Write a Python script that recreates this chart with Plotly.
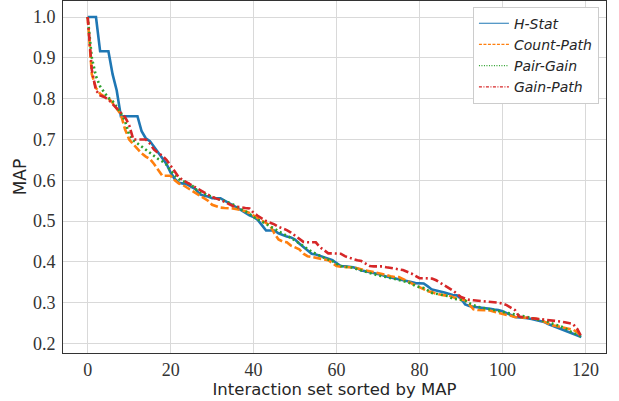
import plotly.graph_objects as go

idx = list(range(120))

h_stat = [1.0, 1.0, 1.0, 0.916, 0.916, 0.916, 0.86, 0.82, 0.757, 0.757,
          0.757, 0.757, 0.757, 0.72, 0.703, 0.696, 0.682, 0.668, 0.655, 0.64,
          0.619, 0.603, 0.594, 0.592, 0.59, 0.584, 0.578, 0.566, 0.562, 0.56,
          0.556, 0.556, 0.556, 0.55, 0.545, 0.54, 0.533, 0.527, 0.52, 0.514,
          0.51, 0.503, 0.49, 0.477, 0.477, 0.477, 0.47, 0.465, 0.462, 0.46,
          0.455, 0.445, 0.436, 0.428, 0.42, 0.418, 0.415, 0.412, 0.408, 0.404,
          0.396, 0.39, 0.389, 0.388, 0.387, 0.384, 0.379, 0.377, 0.375, 0.373,
          0.371, 0.368, 0.364, 0.362, 0.36, 0.358, 0.356, 0.353, 0.351, 0.348,
          0.347, 0.347, 0.34, 0.332, 0.33, 0.328, 0.325, 0.322, 0.319, 0.318,
          0.31, 0.296, 0.292, 0.29, 0.289, 0.288, 0.286, 0.285, 0.283, 0.282,
          0.279, 0.275, 0.27, 0.265, 0.264, 0.264, 0.262, 0.26, 0.258, 0.256,
          0.253, 0.248, 0.244, 0.24, 0.237, 0.233, 0.229, 0.225, 0.221, 0.216]

count_path = [1.0, 0.86, 0.826, 0.812, 0.805, 0.8, 0.79, 0.776, 0.761, 0.725,
              0.7, 0.688, 0.677, 0.666, 0.658, 0.652, 0.64, 0.626, 0.611, 0.611,
              0.611, 0.6, 0.592, 0.588, 0.582, 0.575, 0.57, 0.563, 0.558, 0.55,
              0.54, 0.536, 0.533, 0.532, 0.532, 0.531, 0.529, 0.527, 0.524, 0.52,
              0.514, 0.507, 0.5, 0.495, 0.489, 0.47, 0.455, 0.45, 0.448, 0.44,
              0.435, 0.431, 0.42, 0.414, 0.412, 0.41, 0.408, 0.406, 0.404, 0.397,
              0.39, 0.388, 0.387, 0.387, 0.387, 0.384, 0.381, 0.379, 0.377, 0.375,
              0.373, 0.371, 0.368, 0.365, 0.363, 0.363, 0.358, 0.352, 0.347, 0.342,
              0.337, 0.333, 0.328, 0.326, 0.322, 0.32, 0.318, 0.318, 0.314, 0.31,
              0.308, 0.306, 0.296, 0.284, 0.282, 0.282, 0.282, 0.281, 0.278, 0.275,
              0.272, 0.27, 0.268, 0.265, 0.264, 0.264, 0.263, 0.262, 0.261, 0.258,
              0.254, 0.249, 0.245, 0.243, 0.241, 0.238, 0.236, 0.234, 0.228, 0.217]

pair_gain = [1.0, 0.9, 0.855, 0.83, 0.815, 0.802, 0.794, 0.78, 0.765, 0.745,
             0.712, 0.698, 0.69, 0.682, 0.674, 0.666, 0.659, 0.652, 0.646, 0.638,
             0.624, 0.612, 0.603, 0.597, 0.593, 0.589, 0.578, 0.572, 0.567, 0.562,
             0.559, 0.555, 0.553, 0.549, 0.545, 0.541, 0.535, 0.529, 0.525, 0.518,
             0.51, 0.504, 0.498, 0.492, 0.487, 0.481, 0.475, 0.469, 0.464, 0.459,
             0.452, 0.444, 0.438, 0.432, 0.425, 0.42, 0.414, 0.41, 0.406, 0.402,
             0.395, 0.39, 0.388, 0.387, 0.386, 0.382, 0.379, 0.375, 0.372, 0.369,
             0.367, 0.365, 0.363, 0.361, 0.359, 0.356, 0.353, 0.351, 0.347, 0.341,
             0.338, 0.336, 0.33, 0.324, 0.322, 0.32, 0.318, 0.316, 0.31, 0.308,
             0.306, 0.305, 0.299, 0.294, 0.29, 0.288, 0.286, 0.284, 0.282, 0.28,
             0.278, 0.276, 0.274, 0.272, 0.269, 0.267, 0.265, 0.262, 0.26, 0.258,
             0.256, 0.253, 0.249, 0.246, 0.242, 0.238, 0.231, 0.226, 0.222, 0.217]

gain_path = [1.0, 0.87, 0.82, 0.808, 0.804, 0.798, 0.787, 0.775, 0.765, 0.755,
             0.735, 0.7, 0.7, 0.7, 0.7, 0.69, 0.675, 0.667, 0.66, 0.65,
             0.635, 0.62, 0.607, 0.6, 0.594, 0.59, 0.584, 0.578, 0.572, 0.565,
             0.559, 0.555, 0.552, 0.547, 0.541, 0.537, 0.535, 0.533, 0.532, 0.531,
             0.52, 0.513, 0.506, 0.5, 0.496, 0.492, 0.486, 0.482, 0.478, 0.472,
             0.465, 0.456, 0.449, 0.448, 0.448, 0.448, 0.436, 0.428, 0.421, 0.421,
             0.421, 0.42, 0.414, 0.41, 0.407, 0.404, 0.402, 0.396, 0.39, 0.389,
             0.389, 0.389, 0.387, 0.385, 0.383, 0.382, 0.38, 0.376, 0.372, 0.366,
             0.36, 0.36, 0.36, 0.359, 0.355, 0.349, 0.344, 0.338, 0.33, 0.322,
             0.314, 0.31, 0.307, 0.306, 0.305, 0.305, 0.304, 0.303, 0.302, 0.3,
             0.298, 0.294, 0.288, 0.282, 0.266, 0.264, 0.263, 0.262, 0.261, 0.26,
             0.259, 0.258, 0.257, 0.256, 0.254, 0.252, 0.25, 0.248, 0.236, 0.217]

series_names = ["H-Stat", "Count-Path", "Pair-Gain", "Gain-Path"]
series_values = [h_stat, count_path, pair_gain, gain_path]
colors = ["#1f77b4", "#ff7f0e", "#2ca02c", "#d62728"]
dashes = ["solid", "8px,3px", "2px,3px", "8px,3px,2px,3px"]
legend_dashes = ["solid", "3px,1.5px", "1px,1.5px", "3px,1.5px,1px,1.5px"]

x_ticks = [0, 20, 40, 60, 80, 100, 120]
y_ticks = [0.2, 0.3, 0.4, 0.5, 0.6, 0.7, 0.8, 0.9, 1.0]

fig = go.Figure()
for name, vals, c, d in zip(series_names, series_values, colors, dashes):
    fig.add_trace(go.Scatter(x=idx, y=vals, mode="lines", name=name,
                             line=dict(color=c, width=2.6, dash=d),
                             showlegend=False))
# thin legend samples
for name, c, d in zip(series_names, colors, legend_dashes):
    fig.add_trace(go.Scatter(x=[None], y=[None], mode="lines", name=name,
                             line=dict(color=c, width=1.2, dash=d)))

serif = "Liberation Serif"
sans = "DejaVu Sans"

axis_common = dict(showgrid=True, gridcolor="#d9d9d9", gridwidth=1,
                   zeroline=False, showline=True, mirror=True,
                   linecolor="#333333", linewidth=1, ticks="",
                   tickfont=dict(family=serif, size=18, color="#333333"))

fig.update_xaxes(range=[-5.95, 124.95], tickvals=x_ticks,
                 ticktext=[str(v) for v in x_ticks],
                 title=dict(text="Interaction set sorted by MAP", standoff=2,
                            font=dict(family=sans, size=16.5, color="#262626")),
                 **axis_common)
fig.update_yaxes(range=[0.1768, 1.0392], tickvals=y_ticks,
                 ticktext=["%.1f" % v for v in y_ticks],
                 ticklabelstandoff=3,
                 title=dict(text="MAP", standoff=1,
                            font=dict(family=sans, size=17, color="#262626")),
                 **axis_common)

fig.update_layout(
    width=619, height=401,
    margin=dict(l=63, r=13, t=1, b=48),
    paper_bgcolor="white", plot_bgcolor="white",
    legend=dict(x=0.987, y=0.984, xanchor="right", yanchor="top",
                bgcolor="white", bordercolor="#cccccc", borderwidth=1,
                font=dict(family=sans, size=14, color="#262626", style="italic"),
                tracegroupgap=0, itemwidth=30),
)

fig.write_html("out.html")
